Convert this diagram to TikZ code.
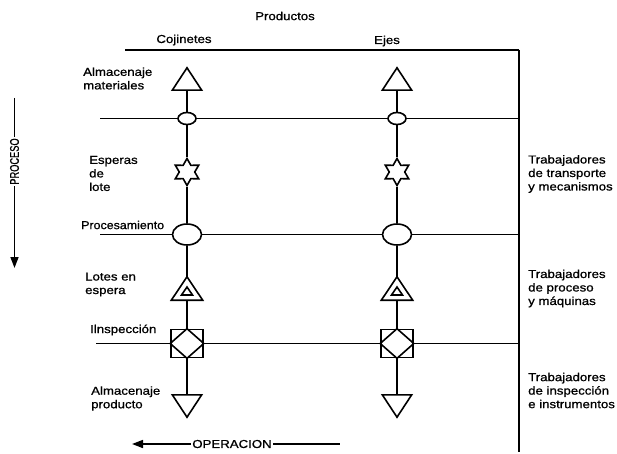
\documentclass[tikz,border=0pt]{standalone}
\usepackage{fontspec}
\setmainfont{Liberation Sans}[FakeStretch=1.15,FakeBold=0.9]
\usetikzlibrary{shapes.geometric,arrows.meta}
\begin{document}
\begin{tikzpicture}[x=1pt,y=-1pt,
  every node/.style={font=\fontsize{11.5}{13.5}\selectfont},
  lbl/.style={anchor=west,align=left,inner sep=0pt},
  ln/.style={line width=1.6pt},
  tribox/.style={inner sep=0pt,minimum width=29pt,minimum height=22pt},
  tribig/.style={inner sep=0pt,minimum width=31pt,minimum height=23pt},
  smallov/.style={ellipse,draw,ln,inner sep=0pt,minimum width=18pt,minimum height=12pt},
  starnode/.style={star,star points=6,star point ratio=1.75,draw,ln,inner sep=0pt,minimum size=27pt},
  bigov/.style={ellipse,draw,ln,inner sep=0pt,minimum width=29pt,minimum height=21pt},
  insq/.style={rectangle,draw,ln,inner sep=0pt,minimum width=32pt,minimum height=28pt},
  axis/.style={inner sep=1.5pt},
  tip/.style={-{Triangle[length=11pt,width=8pt]}}
]
\useasboundingbox (0,0) rectangle (617,454);

% frame
\coordinate (tl) at (125,50);
\coordinate (tr) at (519,50);
\coordinate (br) at (519,452);
\draw[ln] (tl) -- (tr);
\draw[line width=1.9pt] (tr) -- (br);

% headings
\node (prod) at (285,16) {Productos};
\node (coj) at (184,40) {Cojinetes};
\node (ejes) at (387,41) {Ejes};

% columns
\foreach \c/\x in {a/187,b/397}{
  \node[tribox] (t\c) at (\x,79) {};
  \node[smallov] (o\c) at (\x,118.5) {};
  \node[starnode] (s\c) at (\x,172) {};
  \node[bigov] (e\c) at (\x,234.5) {};
  \node[tribig] (d\c) at (\x,288.5) {};
  \node[insq] (q\c) at (\x,343.5) {};
  \node[tribox] (b\c) at (\x,406) {};
  \draw[ln] (t\c.south west) -- (t\c.north) -- (t\c.south east) -- cycle;
  \draw[ln] (d\c.south west) -- (d\c.north) -- (d\c.south east) -- cycle;
  \draw[ln,shift={(d\c.center)}] (0,-1.5) -- (5.5,6.5) -- (-5.5,6.5) -- cycle;
  \draw[ln] (q\c.north) -- (q\c.east) -- (q\c.south) -- (q\c.west) -- cycle;
  \draw[ln] (b\c.north west) -- (b\c.south) -- (b\c.north east) -- cycle;
  \draw[ln] (t\c) -- (o\c) -- (s\c) -- (e\c) -- (d\c) -- (q\c) -- (b\c);
}

% horizontal lines
\coordinate (h1l) at (100,118.5);
\coordinate (h1r) at (519,118.5);
\coordinate (h2l) at (100,234.5);
\coordinate (h2r) at (519,234.5);
\coordinate (h3l) at (96,343.5);
\coordinate (h3r) at (519,343.5);
\draw[ln] (h1l) -- (oa) -- (ob) -- (h1r);
\draw[ln] (h2l) -- (ea) -- (eb) -- (h2r);
\draw[ln] (h3l) -- (qa) -- (qb) -- (h3r);

% left labels
\node[lbl] (l1) at (83,78.5) {Almacenaje\\materiales};
\node[lbl] (l2) at (89,173.5) {Esperas\\de\\lote};
\node[lbl] (l3) at (81,225) {\scalebox{0.94}[1]{Procesamiento}};
\node[lbl] (l4) at (85,284.5) {Lotes en\\espera};
\node[lbl] (l5) at (90,330) {Ilnspección};
\node[lbl] (l6) at (91,398.5) {Almacenaje\\producto};

% right labels
\node[lbl] (r1) at (528,174) {Trabajadores\\de transporte\\y mecanismos};
\node[lbl] (r2) at (528,288.5) {Trabajadores\\de proceso\\y máquinas};
\node[lbl] (r3) at (528,390.5) {Trabajadores\\de inspección\\e instrumentos};

% PROCESO axis
\node[axis,rotate=90] (proc) at (14.5,161.5) {\scalebox{0.7}[1.1]{PROCESO}};
\coordinate (pt) at (14.5,98);
\coordinate (pb) at (14.5,268);
\draw[ln] (pt) -- (proc);
\draw[ln,tip] (proc) -- (pb);

% OPERACION axis
\node[axis] (op) at (232,444) {OPERACION};
\coordinate (ol) at (132,444);
\coordinate (or) at (340,444);
\draw[ln,tip] (op) -- (ol);
\draw[ln] (op) -- (or);
\end{tikzpicture}
\end{document}
